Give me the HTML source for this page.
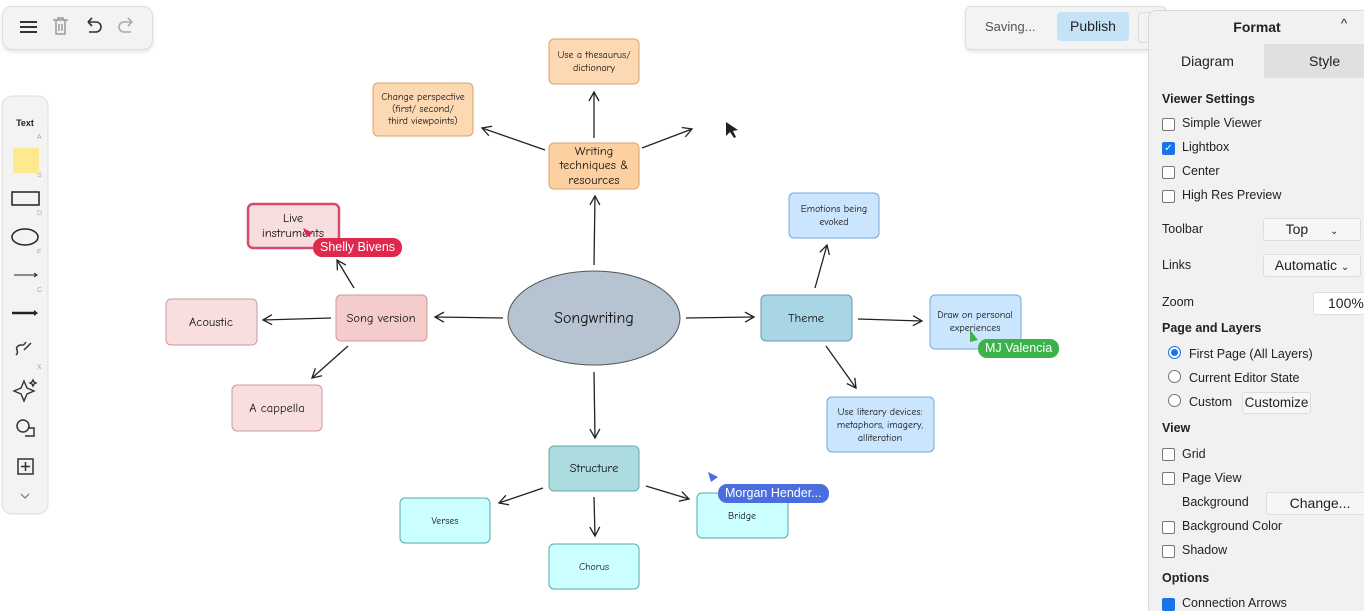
<!DOCTYPE html>
<html><head><meta charset="utf-8"><style>
body{margin:0;width:1364px;height:604px;overflow:hidden;background:#fff;font-family:"Liberation Sans",sans-serif;position:relative}
.a{position:absolute}
.panel{left:1148px;top:10px;width:220px;height:600px;background:#f1f1f1;border-left:1px solid #d8d8d8;border-top:1px solid #d8d8d8;border-radius:8px 0 0 0;font-size:12.5px;color:#222}
.cb{position:absolute;width:11px;height:11px;border:1px solid #777;border-radius:2px;background:#fff}
.rd{position:absolute;width:11px;height:11px;border:1px solid #777;border-radius:50%;background:#fff}
.t{position:absolute;white-space:nowrap}
.b{font-weight:bold}
.sel{position:absolute;background:#f6f6f6;border:1px solid #ddd;border-radius:3px;font-size:14px;text-align:center}
.badge{position:absolute;color:#fff;font-size:12.5px;border-radius:9px;height:19px;line-height:19px;padding:0 7px}
</style></head><body>
<div class="a" style="left:2px;top:6px;width:149px;height:42px;background:#f3f3f3;border:1px solid #ddd;border-radius:10px;box-shadow:0 2px 4px rgba(0,0,0,.1)"></div>
<svg class="a" style="left:0;top:0" width="160" height="520">
<g stroke="#333" stroke-width="2" fill="none"><path d="M20 22h17M20 27h17M20 32h17"/></g>
<g stroke="#999" stroke-width="1.5" fill="none"><path d="M53 20h15M56 20v14h9V20M59 24v7M62 24v7M58 20v-2h5v2"/></g>
<path d="M88 22h8a5 5 0 0 1 0 10h-7M88 22l4-4M88 22l4 4" stroke="#333" stroke-width="1.6" fill="none"/>
<path d="M132 22h-8a5 5 0 0 0 0 10h7M132 22l-4-4M132 22l-4 4" stroke="#aaa" stroke-width="1.6" fill="none"/>
<rect x="2" y="96" width="46" height="418" rx="10" fill="#f3f3f3" stroke="#ddd"/>
<text x="25" y="126" font-size="9" text-anchor="middle" font-weight="bold" fill="#222">Text</text>
<g font-size="7" fill="#aaa"><text x="37" y="139">A</text><text x="37" y="177">S</text><text x="37" y="215">D</text><text x="37" y="254">F</text><text x="37" y="292">C</text><text x="37" y="369">X</text></g>
<rect x="13" y="148" width="26" height="25" fill="#ffe98f"/>
<rect x="12" y="192" width="27" height="13" fill="none" stroke="#222" stroke-width="1.5"/>
<ellipse cx="25" cy="237" rx="13" ry="8" fill="none" stroke="#222" stroke-width="1.5"/>
<path d="M14 275h23M34 273l3 2-3 2" stroke="#222" fill="none"/>
<path d="M12 313h23" stroke="#222" stroke-width="2.5"/><path d="M34 310l4 3-4 3z" fill="#222"/>
<path d="M16 355c4-4-2-6 2-9s4 2 8-4M24 350l7-7" stroke="#333" stroke-width="1.5" fill="none"/>
<path d="M24 381l3 7 7 3-7 3-3 7-3-7-7-3 7-3z M33 380l1 2 2 1-2 1-1 2-1-2-2-1 2-1z" stroke="#333" stroke-width="1.4" fill="none"/>
<circle cx="23" cy="426" r="6" fill="none" stroke="#333" stroke-width="1.5"/><path d="M28 428h6v8h-9" fill="none" stroke="#333" stroke-width="1.5"/>
<rect x="18" y="459" width="15" height="15" fill="none" stroke="#333" stroke-width="1.5"/><path d="M25.5 462v9M21 466.5h9" stroke="#333" stroke-width="1.5"/>
<path d="M21 494l4 4 4-4" stroke="#666" fill="none"/>
</svg>

<svg class="a" style="left:0;top:0" width="1148" height="604" font-family="'Comic Neue','Liberation Sans',sans-serif">
<defs><marker id="ar" markerWidth="12" markerHeight="12" refX="10" refY="6" orient="auto" markerUnits="userSpaceOnUse"><path d="M1 1L10 6L1 11" fill="none" stroke="#222" stroke-width="1.3"/></marker></defs>
<g stroke="#222" stroke-width="1.3" fill="none" marker-end="url(#ar)">
<path d="M594 138L594 92"/>
<path d="M545 150L482 128"/>
<path d="M642 148L692 129"/>
<path d="M594 265L595 196"/>
<path d="M503 318L435 317"/>
<path d="M331 318L263 320"/>
<path d="M354 288L337 260"/>
<path d="M348 346L312 378"/>
<path d="M686 318L754 317"/>
<path d="M815 288L827 245"/>
<path d="M858 319L922 321"/>
<path d="M826 346L856 388"/>
<path d="M594 372L595 438"/>
<path d="M543 488L499 503"/>
<path d="M594 497L595 536"/>
<path d="M646 486L689 499"/>
</g>
<g font-size="12.5" text-anchor="middle" fill="#111">
<rect x="549" y="39" width="90" height="45" rx="5" fill="#fdd9b3" stroke="#d9a26b"/>
<text x="594" y="58" font-size="10">Use a thesaurus/</text><text x="594" y="71" font-size="10">dictionary</text>
<rect x="373" y="83" width="100" height="53" rx="5" fill="#fdd9b3" stroke="#d9a26b"/>
<text x="423" y="100" font-size="10">Change perspective</text><text x="423" y="112" font-size="10">(first/ second/</text><text x="423" y="124" font-size="10">third viewpoints)</text>
<rect x="549" y="143" width="90" height="46" rx="5" fill="#fdd0a2" stroke="#d9a26b"/>
<text x="594" y="155">Writing</text><text x="594" y="169">techniques &amp;</text><text x="594" y="184">resources</text>
<rect x="248" y="204" width="91" height="44" rx="5" fill="#f8dede" stroke="#d64a6a" stroke-width="2.5"/>
<text x="293" y="222">Live</text><text x="293" y="237">instruments</text>
<rect x="166" y="299" width="91" height="46" rx="5" fill="#f8dede" stroke="#c99"/>
<text x="211" y="326">Acoustic</text>
<rect x="336" y="295" width="91" height="46" rx="5" fill="#f5cccc" stroke="#c99"/>
<text x="381" y="322">Song version</text>
<rect x="232" y="385" width="90" height="46" rx="5" fill="#f8dede" stroke="#c99"/>
<text x="277" y="412">A cappella</text>
<ellipse cx="594" cy="318" rx="86" ry="47" fill="#b6c4d2" stroke="#555"/>
<text x="594" y="323" font-size="16">Songwriting</text>
<rect x="761" y="295" width="91" height="46" rx="5" fill="#a9d6e5" stroke="#6a9bb0"/>
<text x="806" y="322">Theme</text>
<rect x="789" y="193" width="90" height="45" rx="5" fill="#cce5ff" stroke="#6fa8dc"/>
<text x="834" y="212" font-size="10">Emotions being</text><text x="834" y="225" font-size="10">evoked</text>
<rect x="930" y="295" width="91" height="54" rx="5" fill="#cce5ff" stroke="#6fa8dc"/>
<text x="975" y="318" font-size="10">Draw on personal</text><text x="975" y="331" font-size="10">experiences</text>
<rect x="827" y="397" width="107" height="55" rx="5" fill="#cce5ff" stroke="#6fa8dc"/>
<text x="880" y="415" font-size="10">Use literary devices:</text><text x="880" y="428" font-size="10">metaphors, imagery,</text><text x="880" y="441" font-size="10">alliteration</text>
<rect x="549" y="446" width="90" height="45" rx="5" fill="#acdbe0" stroke="#6aa"/>
<text x="594" y="472">Structure</text>
<rect x="400" y="498" width="90" height="45" rx="5" fill="#ccffff" stroke="#5aa"/>
<text x="445" y="524" font-size="10">Verses</text>
<rect x="549" y="544" width="90" height="45" rx="5" fill="#ccffff" stroke="#5aa"/>
<text x="594" y="570" font-size="10">Chorus</text>
<rect x="697" y="493" width="91" height="45" rx="5" fill="#ccffff" stroke="#5aa"/>
<text x="742" y="519" font-size="10">Bridge</text>
</g>
<path d="M726 122l0 14 4-4 4 6 2-1-3-6 5-1z" fill="#222"/>
<path d="M303 228l10 5-6 4z" fill="#e0284f"/>
<path d="M970 330l8 10-8 2z" fill="#3cb34a"/>
<path d="M708 472l10 5-7 5z" fill="#4a6ee0"/>
</svg>
<div class="badge" style="left:313px;top:238px;background:#e0284f">Shelly Bivens</div>
<div class="badge" style="left:978px;top:339px;background:#3cb34a">MJ Valencia</div>
<div class="badge" style="left:718px;top:484px;background:#4a6ee0">Morgan Hender...</div>

<div class="a" style="left:965px;top:6px;width:200px;height:42px;background:#f3f3f3;border:1px solid #ddd;border-radius:6px;box-shadow:0 2px 4px rgba(0,0,0,.1)"></div>
<div class="t" style="left:985px;top:19px;font-size:13px;color:#555">Saving...</div>
<div class="a" style="left:1057px;top:12px;width:72px;height:29px;background:#c6e2f7;border-radius:4px;font-size:14px;line-height:29px;text-align:center;color:#222">Publish</div>
<div class="a" style="left:1138px;top:12px;width:20px;height:29px;border:1px solid #ddd;border-radius:4px"></div>

<div class="a panel">
<div class="t b" style="left:0;width:216px;text-align:center;top:8px;font-size:14px">Format</div>
<div class="t" style="left:192px;top:5px;font-size:13px">&#94;</div>
<div class="a" style="left:0;top:33px;width:115px;height:34px;background:#f1f1f1"></div>
<div class="a" style="left:115px;top:33px;width:104px;height:34px;background:#e0e0e0"></div>
<div class="t" style="left:32px;top:42px;font-size:14px">Diagram</div>
<div class="t" style="left:160px;top:42px;font-size:14px">Style</div>
<div class="t b" style="left:13px;top:81px">Viewer Settings</div>
<div class="cb" style="left:13px;top:107px"></div><div class="t" style="left:33px;top:105px">Simple Viewer</div>
<div class="cb" style="left:13px;top:131px;background:#1a73e8;border-color:#1a73e8;color:#fff;font-size:10px;line-height:11px;text-align:center">✓</div><div class="t" style="left:33px;top:129px">Lightbox</div>
<div class="cb" style="left:13px;top:155px"></div><div class="t" style="left:33px;top:153px">Center</div>
<div class="cb" style="left:13px;top:179px"></div><div class="t" style="left:33px;top:177px">High Res Preview</div>
<div class="t" style="left:13px;top:211px">Toolbar</div>
<div class="sel" style="left:114px;top:207px;width:96px;height:21px;line-height:21px">Top <span style="font-size:10px;margin-left:18px">&#8964;</span></div>
<div class="t" style="left:13px;top:247px">Links</div>
<div class="sel" style="left:114px;top:243px;width:96px;height:21px;line-height:21px">Automatic <span style="font-size:10px">&#8964;</span></div>
<div class="t" style="left:13px;top:284px">Zoom</div>
<div class="sel" style="left:164px;top:281px;width:60px;height:21px;line-height:21px;background:#fff;text-align:left;padding-left:14px">100%</div>
<div class="t b" style="left:13px;top:310px">Page and Layers</div>
<div class="rd" style="left:19px;top:335px;background:#1a73e8;border-color:#1a73e8;box-shadow:inset 0 0 0 2px #fff"></div><div class="t" style="left:40px;top:336px">First Page (All Layers)</div>
<div class="rd" style="left:19px;top:359px"></div><div class="t" style="left:40px;top:360px">Current Editor State</div>
<div class="rd" style="left:19px;top:383px"></div><div class="t" style="left:40px;top:384px">Custom</div>
<div class="sel" style="left:93px;top:381px;width:67px;height:20px;line-height:20px;font-size:13.5px">Customize</div>
<div class="t b" style="left:13px;top:410px">View</div>
<div class="cb" style="left:13px;top:437px"></div><div class="t" style="left:33px;top:436px">Grid</div>
<div class="cb" style="left:13px;top:461px"></div><div class="t" style="left:33px;top:460px">Page View</div>
<div class="t" style="left:33px;top:484px">Background</div>
<div class="sel" style="left:117px;top:481px;width:106px;height:21px;line-height:21px">Change...</div>
<div class="cb" style="left:13px;top:510px"></div><div class="t" style="left:33px;top:508px">Background Color</div>
<div class="cb" style="left:13px;top:534px"></div><div class="t" style="left:33px;top:532px">Shadow</div>
<div class="t b" style="left:13px;top:560px">Options</div>
<div class="cb" style="left:13px;top:587px;background:#1a73e8;border-color:#1a73e8"></div><div class="t" style="left:33px;top:585px">Connection Arrows</div>
</div>
</body></html>
